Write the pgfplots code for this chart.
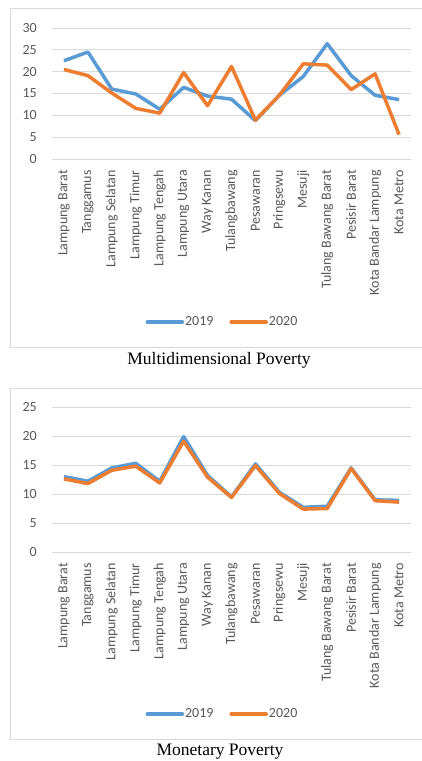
\documentclass[border=0pt]{standalone}
\usepackage{fontspec}
\setmainfont{Carlito}
\newfontfamily\serif{Liberation Serif}
\usepackage{pgfplots}
\pgfplotsset{compat=1.18}
\definecolor{xlblue}{HTML}{5B9BD5}
\definecolor{xlorange}{HTML}{ED7D31}
\definecolor{xltext}{HTML}{595959}
\definecolor{xlgrid}{HTML}{D9D9D9}
\pgfplotsset{
  povstyle/.style={
    scale only axis, width=359pt,
    xmin=-0.5, xmax=14.5, ymin=0,
    xtick={0,...,14},
    xticklabels={Lampung Barat,Tanggamus,Lampung Selatan,Lampung Timur,Lampung Tengah,Lampung Utara,Way Kanan,Tulangbawang,Pesawaran,Pringsewu,Mesuji,Tulang Bawang Barat,Pesisir Barat,Kota Bandar Lampung,Kota Metro},
    axis line style={draw=none},
    major tick length=0pt,
    ymajorgrids, major grid style={color=xlgrid, line width=0.9pt},
    tick label style={font=\fontsize{14}{16}\selectfont, text=xltext},
    /pgf/number format/assume math mode=true,
    yticklabel style={anchor=east, inner sep=0pt, xshift=-15pt},
    xticklabel style={yshift=-11pt, rotate=90, anchor=east, inner sep=0pt},
    legend columns=2,
    legend style={draw=none, fill=none, font=\fontsize{14}{16}\selectfont, text=xltext,
      anchor=center, /tikz/every even column/.append style={column sep=15pt},
      nodes={inner sep=1pt}},
    legend image code/.code={\draw[#1, line cap=round] (0pt,0pt) -- (35pt,0pt);},
    every axis plot/.append style={line width=3.5pt, line join=round, mark=none},
  }
}
\begin{document}
\begin{tikzpicture}[x=1pt,y=1pt]
\useasboundingbox (0,0) rectangle (421,-761);
\fill[white] (0,0) rectangle (421,-761);
\draw[xlgrid, line width=0.9pt] (10,-8) rectangle (440,-347);
\draw[xlgrid, line width=0.9pt] (10,-388) rectangle (440,-739);
% Top chart
\begin{axis}[povstyle, height=131pt, ymax=30, ytick={0,5,...,30},
  at={(52pt,-159pt)}, anchor=south west,
  legend style={at={(0.4735,-1.244)}}]
\addplot[xlblue] coordinates {(0,22.5) (1,24.5) (2,16.0) (3,14.9) (4,11.4) (5,16.4) (6,14.4) (7,13.7) (8,8.8) (9,14.6) (10,18.9) (11,26.4) (12,19.1) (13,14.6) (14,13.6)};
\addplot[xlorange] coordinates {(0,20.5) (1,19.1) (2,15.1) (3,11.6) (4,10.5) (5,19.8) (6,12.2) (7,21.2) (8,8.9) (9,14.6) (10,21.8) (11,21.5) (12,15.9) (13,19.5) (14,5.6)};
\legend{2019,2020}
\end{axis}
\node[font=\serif\fontsize{17.5}{20}\selectfont] at (219,-360) {Multidimensional Poverty};
% Bottom chart
\begin{axis}[povstyle, height=145pt, ymax=25, ytick={0,5,...,25},
  at={(52pt,-552pt)}, anchor=south west,
  legend style={at={(0.4735,-1.117)}}]
\addplot[xlblue] coordinates {(0,13.0) (1,12.2) (2,14.5) (3,15.3) (4,12.2) (5,19.9) (6,13.2) (7,9.5) (8,15.2) (9,10.3) (10,7.7) (11,7.9) (12,14.5) (13,9.0) (14,8.9)};
\addplot[xlorange] coordinates {(0,12.6) (1,11.8) (2,14.1) (3,14.8) (4,11.9) (5,19.1) (6,12.9) (7,9.4) (8,14.9) (9,10.1) (10,7.4) (11,7.5) (12,14.4) (13,8.85) (14,8.6)};
\legend{2019,2020}
\end{axis}
\node[font=\serif\fontsize{17.5}{20}\selectfont] at (220,-752) {Monetary Poverty};
\end{tikzpicture}
\end{document}
